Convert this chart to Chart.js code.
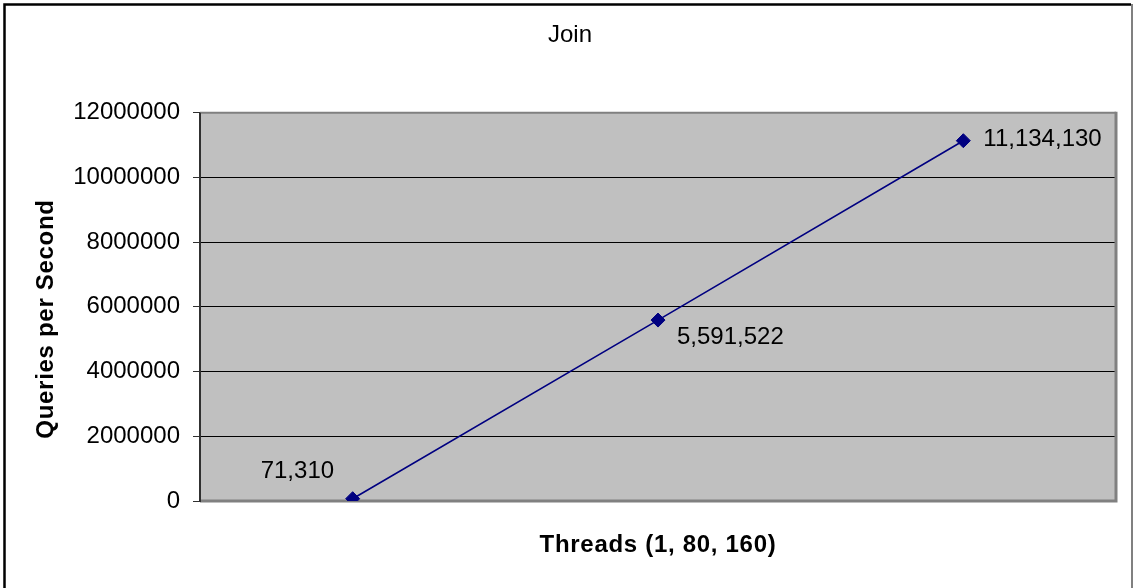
<!DOCTYPE html>
<html>
<head>
<meta charset="utf-8">
<title>Join</title>
<script src="https://cdn.jsdelivr.net/npm/chart.js@4/dist/chart.umd.min.js"></script>
<style>
  html, body { margin: 0; padding: 0; background: #ffffff; }
  #wrap { width: 1133px; height: 588px; position: relative; }
</style>
</head>
<body>
<div id="wrap"><canvas id="chart" width="1133" height="588"></canvas></div>
<script>
// Thread counts on the x axis and measured throughput
const threads = ['1', '80', '160'];
const queriesPerSecond = [71310, 5591522, 11134130];

// Value axis range
const yMin = 0;
const yMax = 12000000;
const yStep = 2000000;

const chartTitle = 'Join';
const xTitle = 'Threads (1, 80, 160)';
const yTitle = 'Queries per Second';

// Where each value label sits relative to its point (dx, dy to text baseline-left)
const labelOffsets = [[-92, -21], [19, 24], [20, 5]];

const FONT = "'Liberation Sans', Arial, Helvetica, sans-serif";

const framePlugin = {
  id: 'frame',
  beforeDraw(chart) {
    const { ctx, chartArea: a } = chart;
    ctx.save();
    ctx.fillStyle = '#ffffff';
    ctx.fillRect(0, 0, chart.width, chart.height);
    // plot background
    ctx.fillStyle = '#c0c0c0';
    ctx.fillRect(a.left, a.top, a.right - a.left, a.bottom - a.top);
    ctx.restore();
  },
  beforeDatasetsDraw(chart) {
    const { ctx, chartArea: a } = chart;
    ctx.save();
    // plot border: gray top, heavier gray right and bottom
    ctx.strokeStyle = '#808080';
    ctx.lineWidth = 2;
    ctx.beginPath();
    ctx.moveTo(a.left, a.top);
    ctx.lineTo(a.right, a.top);
    ctx.stroke();
    ctx.lineWidth = 3;
    ctx.beginPath();
    ctx.moveTo(a.right, a.top - 1);
    ctx.lineTo(a.right, a.bottom);
    ctx.lineTo(a.left, a.bottom);
    ctx.stroke();
    // value axis line
    ctx.strokeStyle = '#303030';
    ctx.lineWidth = 2;
    ctx.beginPath();
    ctx.moveTo(a.left, a.top);
    ctx.lineTo(a.left, a.bottom + 1);
    ctx.stroke();
    ctx.restore();
  },
  afterDraw(chart) {
    const { ctx, chartArea: a } = chart;
    ctx.save();
    // outer frame
    ctx.strokeStyle = '#000000';
    ctx.lineWidth = 2.5;
    ctx.beginPath();
    ctx.moveTo(4.5, chart.height);
    ctx.lineTo(4.5, 4.5);
    ctx.lineTo(1131, 4.5);
    ctx.stroke();
    ctx.strokeStyle = '#808080';
    ctx.lineWidth = 2;
    ctx.beginPath();
    ctx.moveTo(1132, 4);
    ctx.lineTo(1132, chart.height);
    ctx.stroke();

    // axis titles
    ctx.fillStyle = '#000000';
    ctx.font = 'bold 24px ' + FONT;
    if ('letterSpacing' in ctx) ctx.letterSpacing = '0.7px';
    ctx.textAlign = 'center';
    ctx.textBaseline = 'middle';
    ctx.fillText(xTitle, (a.left + a.right) / 2, 545);
    ctx.translate(46, 319);
    ctx.rotate(-Math.PI / 2);
    ctx.fillText(yTitle, 0, 0);
    ctx.restore();
  },
  afterDatasetsDraw(chart) {
    const { ctx } = chart;
    const meta = chart.getDatasetMeta(0);
    ctx.save();
    ctx.fillStyle = '#000000';
    ctx.font = '24px ' + FONT;
    ctx.textAlign = 'left';
    ctx.textBaseline = 'alphabetic';
    meta.data.forEach((pt, i) => {
      const v = chart.data.datasets[0].data[i];
      const [dx, dy] = labelOffsets[i];
      ctx.fillText(v.toLocaleString('en-US'), pt.x + dx, pt.y + dy);
    });
    ctx.restore();
  }
};

new Chart(document.getElementById('chart'), {
  type: 'line',
  data: {
    labels: threads,
    datasets: [{
      label: yTitle,
      data: queriesPerSecond,
      borderColor: '#000080',
      backgroundColor: '#000080',
      borderWidth: 1.6,
      pointStyle: 'rectRot',
      pointRadius: 7,
      pointBorderWidth: 1,
      pointBackgroundColor: '#000080',
      pointBorderColor: '#000080',
      tension: 0,
      fill: false
    }]
  },
  options: {
    responsive: false,
    animation: false,
    devicePixelRatio: 1,
    layout: { padding: { top: 0, left: 24, right: 17, bottom: 0 } },
    plugins: {
      legend: { display: false },
      tooltip: { enabled: false },
      title: {
        display: true,
        text: chartTitle,
        color: '#000000',
        font: { family: FONT, size: 24, weight: 'normal', lineHeight: 1.2 },
        padding: { top: 20.6, bottom: 63.3 }
      }
    },
    scales: {
      x: {
        type: 'category',
        offset: true,
        grid: { display: false },
        border: { display: false },
        ticks: { display: false },
        afterFit(scale) { scale.height = 87; }
      },
      y: {
        min: yMin,
        max: yMax,
        afterFit(scale) { scale.width = 176; },
        ticks: {
          stepSize: yStep,
          color: '#000000',
          padding: 13,
          font: { family: FONT, size: 24 },
          callback: (v) => String(v)
        },
        grid: {
          color: '#000000',
          lineWidth: 1,
          tickLength: 7,
          tickColor: '#303030',
          drawTicks: true
        },
        border: { display: false }
      }
    }
  },
  plugins: [framePlugin]
});
</script>
</body>
</html>
